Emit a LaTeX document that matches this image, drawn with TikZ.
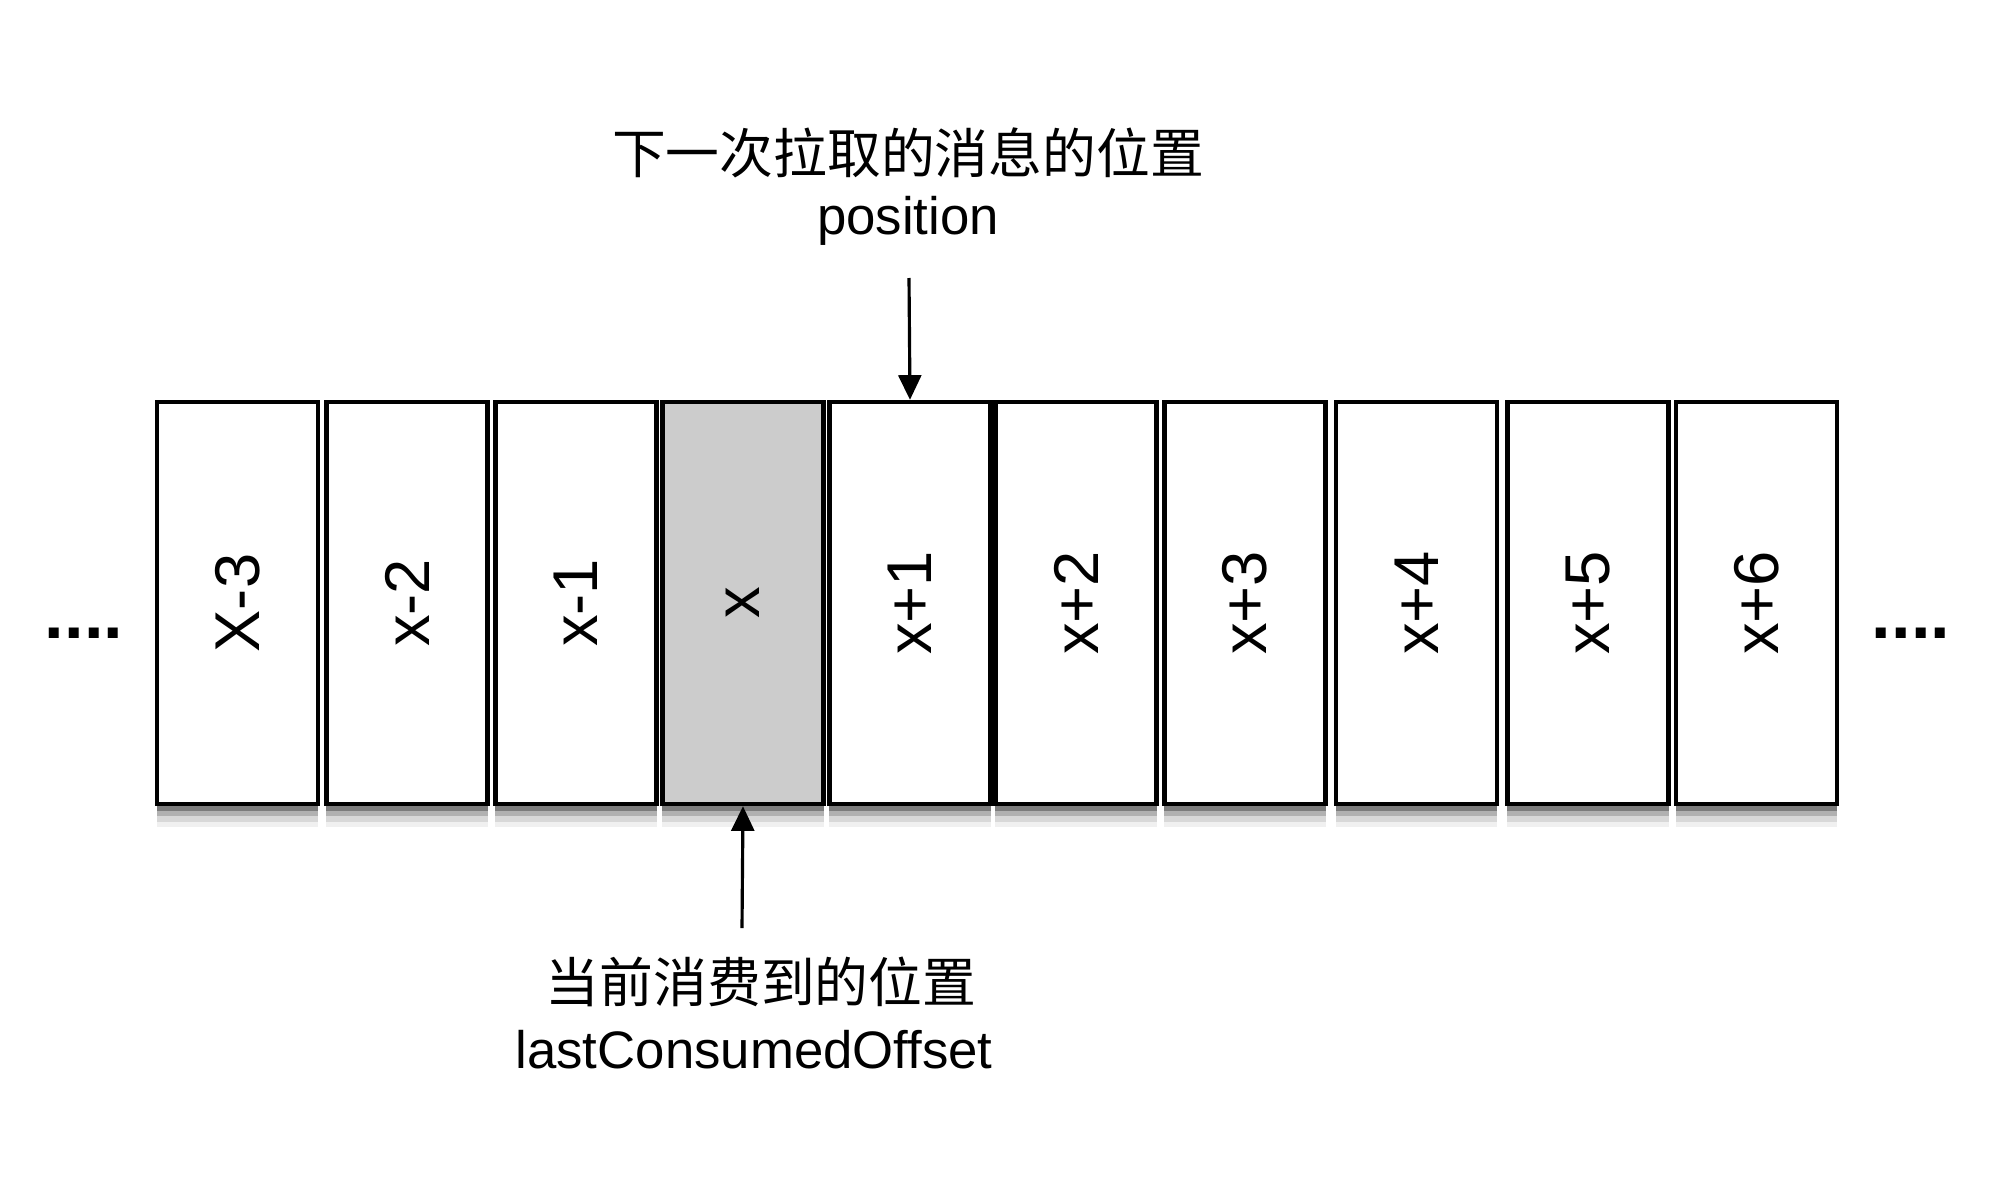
\documentclass[tikz,border=0pt]{standalone}
\usepackage{fontspec}
\setmainfont{Liberation Sans}
\newfontfamily\cjk{Noto Sans CJK SC}
\usetikzlibrary{shadows,arrows.meta}
\begin{document}
\begin{tikzpicture}[x=0.01cm,y=-0.01cm,
  cell/.style={draw=black, line width=1.2pt, fill=white, minimum width=1.61cm,
    minimum height=4.02cm, inner sep=0pt,
    drop shadow={shadow xshift=0pt, shadow yshift=-6.5pt, opacity=0.06, fill=black},
    drop shadow={shadow xshift=0pt, shadow yshift=-5pt, opacity=0.1, fill=black},
    drop shadow={shadow xshift=0pt, shadow yshift=-3.5pt, opacity=0.18, fill=black},
    drop shadow={shadow xshift=0pt, shadow yshift=-2pt, opacity=0.3, fill=black}},
  cellgray/.style={cell, fill=black!20},
  lbl/.style={rotate=90, font=\fontsize{18}{20}\selectfont},
  cjktext/.style={font=\cjk\fontsize{15.3}{18}\selectfont, inner sep=0pt},
  lattext/.style={font=\fontsize{15}{18}\selectfont, inner sep=0pt},
  dots/.style={font=\bfseries\fontsize{20}{22}\selectfont, inner sep=0pt},
  pointer/.style={-{Triangle[length=7pt,width=6.5pt]}, line width=0.9pt, black}]
\useasboundingbox (0,0) rectangle (2000,1200);

\node[cell] (c1) at (237.5,603) {};
\node[cell] (c2) at (407,603) {};
\node[cell] (c3) at (576,603) {};
\node[cellgray] (c4) at (743,603) {};
\node[cell] (c5) at (910,603) {};
\node[cell] (c6) at (1076,603) {};
\node[cell] (c7) at (1245,603) {};
\node[cell] (c8) at (1416.5,603) {};
\node[cell] (c9) at (1588,603) {};
\node[cell] (c10) at (1756.5,603) {};

\node[lbl] (l1) at (c1) {X-3};
\node[lbl] (l2) at (c2) {x-2};
\node[lbl] (l3) at (c3) {x-1};
\node[lbl] (l4) at (c4) {x};
\node[lbl] (l5) at (c5) {x+1};
\node[lbl] (l6) at (c6) {x+2};
\node[lbl] (l7) at (c7) {x+3};
\node[lbl] (l8) at (c8) {x+4};
\node[lbl] (l9) at (c9) {x+5};
\node[lbl] (l10) at (c10) {x+6};

\node[dots] (dl) at (84,633) {....};
\node[dots] (dr) at (1911,633) {....};

\node[cjktext] (t1) at (908,153) {下一次拉取的消息的位置};
\node[lattext] (t2) at (908,221) {position};
\coordinate (ta) at (909,278);
\draw[pointer] (ta) -- (c5.north);

\node[cjktext] (b1) at (761,982) {当前消费到的位置};
\node[lattext] (b2) at (754,1050) {lastConsumedOffset};
\coordinate (ba) at (742,928);
\draw[pointer] (ba) -- (c4.south);
\end{tikzpicture}
\end{document}
